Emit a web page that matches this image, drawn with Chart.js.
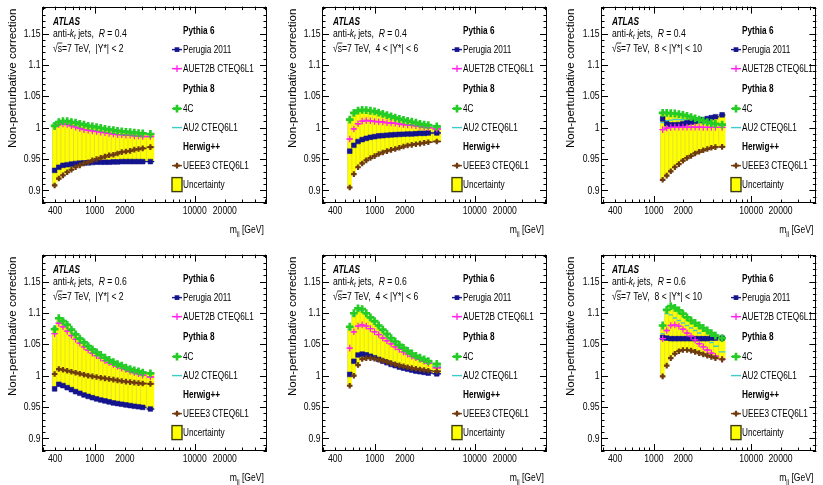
<!DOCTYPE html>
<html>
<head>
<meta charset="utf-8">
<script src="https://cdn.jsdelivr.net/npm/chart.js@4.4.1/dist/chart.umd.min.js"></script>
<style>
  html, body { margin: 0; padding: 0; background: #ffffff; }
  #wrap { position: relative; width: 823px; height: 485px; overflow: hidden; background: #ffffff; }
  .pane { position: absolute; }
</style>
</head>
<body>
<div id="wrap"></div>
<script>
// ---- dijet mass bin centres [GeV] ----
const mjjY2  = [396, 436, 480, 529, 583, 642, 707, 779, 858, 945, 1041, 1147, 1263, 1391, 1533, 1688, 1860, 2048, 2256, 2485, 2738, 3016, 3600];
const mjjY6  = [561, 617, 679, 747, 821, 903, 994, 1093, 1202, 1323, 1455, 1600, 1760, 1936, 2130, 2343, 2577, 2835, 3118, 3430, 4170];
const mjjY10 = [1230, 1354, 1490, 1640, 1805, 1987, 2187, 2408, 2650, 2917, 3211, 3534, 3890, 4282, 5020];

// ---- R = 0.4, |Y*| < 2 ----
const perugiaR4Y2 = [0.932, 0.937, 0.940, 0.941, 0.942, 0.943, 0.9435, 0.944, 0.944, 0.9445, 0.945, 0.945, 0.945, 0.945, 0.9455, 0.9455, 0.946, 0.946, 0.946, 0.946, 0.946, 0.946, 0.946];
const auet2bR4Y2  = [1.002, 1.005, 1.006, 1.005, 1.003, 1.001, 0.999, 0.997, 0.996, 0.995, 0.994, 0.993, 0.992, 0.991, 0.990, 0.989, 0.989, 0.988, 0.988, 0.987, 0.987, 0.986, 0.986];
const c4R4Y2      = [1.003, 1.009, 1.0105, 1.0105, 1.009, 1.008, 1.006, 1.005, 1.003, 1.002, 1.001, 0.9995, 0.998, 0.997, 0.996, 0.995, 0.994, 0.9935, 0.993, 0.992, 0.9915, 0.991, 0.990];
const au2R4Y2     = [1.007, 1.0105, 1.011, 1.011, 1.010, 1.009, 1.007, 1.006, 1.004, 1.003, 1.002, 1.000, 0.999, 0.998, 0.997, 0.996, 0.995, 0.994, 0.993, 0.993, 0.992, 0.991, 0.990];
const ueee3R4Y2   = [0.908, 0.919, 0.924, 0.929, 0.933, 0.937, 0.940, 0.943, 0.945, 0.948, 0.950, 0.952, 0.954, 0.956, 0.957, 0.959, 0.961, 0.962, 0.963, 0.965, 0.966, 0.967, 0.969];

// ---- R = 0.4, 4 < |Y*| < 6 ----
const perugiaR4Y6 = [0.9626, 0.972, 0.978, 0.981, 0.983, 0.9847, 0.9858, 0.987, 0.9874, 0.988, 0.9885, 0.989, 0.9893, 0.9896, 0.990, 0.990, 0.9905, 0.991, 0.991, 0.9915, 0.9916];
const auet2bR4Y6  = [0.982, 0.998, 1.0063, 1.0105, 1.0115, 1.011, 1.010, 1.0095, 1.009, 1.008, 1.0075, 1.007, 1.006, 1.005, 1.0045, 1.004, 1.003, 1.002, 1.001, 1.000, 0.998];
const c4R4Y6      = [1.013, 1.0237, 1.0273, 1.0284, 1.028, 1.027, 1.026, 1.024, 1.022, 1.020, 1.018, 1.016, 1.014, 1.0125, 1.011, 1.0095, 1.008, 1.006, 1.005, 1.004, 1.002];
const au2R4Y6     = [1.014, 1.022, 1.026, 1.027, 1.027, 1.026, 1.025, 1.023, 1.021, 1.019, 1.017, 1.015, 1.013, 1.012, 1.010, 1.009, 1.007, 1.006, 1.004, 1.003, 1.001];
const ueee3R4Y6   = [0.9047, 0.926, 0.937, 0.943, 0.948, 0.9516, 0.9547, 0.958, 0.9605, 0.9626, 0.9647, 0.966, 0.968, 0.970, 0.9716, 0.9726, 0.9737, 0.9747, 0.9758, 0.9768, 0.978];

// ---- R = 0.4, 8 < |Y*| < 10 ----
const perugiaR4Y10 = [1.014, 1.0063, 1.0047, 1.0047, 1.005, 1.0063, 1.0079, 1.009, 1.010, 1.0115, 1.013, 1.0145, 1.016, 1.0175, 1.0205];
const auet2bR4Y10  = [0.997, 0.9995, 1.0005, 1.001, 1.001, 1.001, 1.001, 1.001, 1.001, 1.001, 1.0005, 1.0005, 1.0005, 1.0005, 1.0005];
const c4R4Y10      = [1.0237, 1.0237, 1.023, 1.0226, 1.0216, 1.0205, 1.019, 1.017, 1.015, 1.013, 1.011, 1.009, 1.0075, 1.006, 1.005];
const au2R4Y10     = [1.0084, 1.011, 1.012, 1.013, 1.013, 1.0126, 1.012, 1.011, 1.010, 1.009, 1.008, 1.007, 1.006, 1.005, 1.0047];
const ueee3R4Y10   = [0.917, 0.9237, 0.9305, 0.937, 0.942, 0.9474, 0.9516, 0.955, 0.959, 0.9616, 0.964, 0.966, 0.968, 0.969, 0.9695];

// ---- R = 0.6, |Y*| < 2 ----
const perugiaR6Y2 = [0.979, 0.9863, 0.9842, 0.981, 0.9778, 0.9746, 0.972, 0.9693, 0.967, 0.965, 0.963, 0.9613, 0.9598, 0.9582, 0.9566, 0.9556, 0.9545, 0.9534, 0.9524, 0.9513, 0.9505, 0.9495, 0.947];
const auet2bR6Y2  = [1.067, 1.0836, 1.078, 1.071, 1.064, 1.058, 1.052, 1.046, 1.041, 1.036, 1.032, 1.028, 1.024, 1.021, 1.018, 1.015, 1.012, 1.010, 1.007, 1.005, 1.003, 1.001, 0.998];
const c4R6Y2      = [1.074, 1.0916, 1.087, 1.081, 1.0735, 1.066, 1.059, 1.053, 1.047, 1.042, 1.037, 1.033, 1.0286, 1.025, 1.0217, 1.0185, 1.016, 1.013, 1.0106, 1.0085, 1.007, 1.005, 1.0037];
const au2R6Y2     = [1.077, 1.093, 1.089, 1.083, 1.075, 1.068, 1.061, 1.055, 1.049, 1.044, 1.039, 1.034, 1.030, 1.026, 1.023, 1.020, 1.017, 1.014, 1.012, 1.010, 1.008, 1.006, 1.004];
const ueee3R6Y2   = [1.0027, 1.0106, 1.0095, 1.0079, 1.0063, 1.0048, 1.0032, 1.0016, 1.0, 0.9989, 0.9979, 0.9968, 0.9958, 0.9947, 0.9937, 0.9926, 0.9915, 0.9905, 0.9897, 0.989, 0.9882, 0.9875, 0.987];

// ---- R = 0.6, 4 < |Y*| < 6 ----
const perugiaR6Y6 = [1.002, 1.023, 1.033, 1.0344, 1.0333, 1.031, 1.0286, 1.026, 1.023, 1.0206, 1.018, 1.016, 1.0138, 1.012, 1.0106, 1.009, 1.0074, 1.0063, 1.0053, 1.0042, 1.003];
const auet2bR6Y6  = [1.044, 1.070, 1.079, 1.081, 1.079, 1.075, 1.070, 1.0656, 1.060, 1.0556, 1.0508, 1.046, 1.042, 1.038, 1.0344, 1.031, 1.0286, 1.026, 1.023, 1.020, 1.0127];
const c4R6Y6      = [1.078, 1.0995, 1.1074, 1.106, 1.0995, 1.093, 1.087, 1.080, 1.0735, 1.0667, 1.060, 1.0545, 1.049, 1.0444, 1.0397, 1.0354, 1.0317, 1.0286, 1.026, 1.0233, 1.019];
const au2R6Y6     = [1.074, 1.096, 1.104, 1.104, 1.098, 1.091, 1.085, 1.078, 1.071, 1.064, 1.058, 1.052, 1.047, 1.042, 1.037, 1.033, 1.029, 1.026, 1.023, 1.020, 1.015];
const ueee3R6Y6   = [0.984, 1.0, 1.017, 1.0265, 1.028, 1.028, 1.027, 1.0255, 1.024, 1.022, 1.020, 1.018, 1.0165, 1.015, 1.0135, 1.012, 1.011, 1.010, 1.009, 1.008, 1.007];

// ---- R = 0.6, 8 < |Y*| < 10 ----
const perugiaR6Y10 = [1.061, 1.060, 1.059, 1.059, 1.059, 1.059, 1.059, 1.059, 1.059, 1.059, 1.059, 1.059, 1.060, 1.060, 1.060];
const auet2bR6Y10  = [1.059, 1.072, 1.080, 1.081, 1.079, 1.074, 1.068, 1.063, 1.057, 1.051, 1.046, 1.041, 1.036, 1.031, 1.026];
const c4R6Y10      = [1.080, 1.105, 1.111, 1.108, 1.104, 1.099, 1.093, 1.088, 1.084, 1.080, 1.076, 1.072, 1.068, 1.064, 1.060];
const au2R6Y10     = [1.067, 1.099, 1.097, 1.092, 1.088, 1.084, 1.080, 1.076, 1.072, 1.068, 1.062, 1.058, 1.053, 1.047, 1.038];
const ueee3R6Y10   = [0.999, 1.016, 1.028, 1.035, 1.039, 1.041, 1.041, 1.040, 1.038, 1.036, 1.034, 1.032, 1.030, 1.028, 1.026];

// ---- axis tick labels ----
const yTickValues = [0.9, 0.95, 1, 1.05, 1.1, 1.15];
const xTickValues = [400, 1000, 2000, 10000, 20000];

// ---- fonts: horizontal text is drawn condensed ----
const FW = '"Liberation Sans", Arial, Helvetica, sans-serif';
const SX = 0.77;

// ---- generator tunes and their marker styles ----
const models = [
  { key: 'perugia', label: 'Perugia 2011',   color: '#14148e', style: 'rect',  r: 3.3, bw: 1,   order: 5 },
  { key: 'auet2b',  label: 'AUET2B CTEQ6L1', color: '#ff22ee', style: 'cross', r: 3.3, bw: 1.3, order: 4 },
  { key: 'c4',      label: '4C',             color: '#25cc25', style: 'cross', r: 3.9, bw: 2.7, order: 3 },
  { key: 'au2',     label: 'AU2 CTEQ6L1',    color: '#3ccccc', style: 'none',  r: 0,   bw: 1,   order: 2 },
  { key: 'ueee3',   label: 'UEEE3 CTEQ6L1',  color: '#6e3b0e', style: 'cross', r: 2.8, bw: 2.2, order: 1 }
];

const panels = [
  { row: 0, col: 0, R: '0.4', ystar: '|Y*| < 2',       mjj: mjjY2,  s: { perugia: perugiaR4Y2,  auet2b: auet2bR4Y2,  c4: c4R4Y2,  au2: au2R4Y2,  ueee3: ueee3R4Y2 } },
  { row: 0, col: 1, R: '0.4', ystar: '4 < |Y*| < 6',   mjj: mjjY6,  s: { perugia: perugiaR4Y6,  auet2b: auet2bR4Y6,  c4: c4R4Y6,  au2: au2R4Y6,  ueee3: ueee3R4Y6 } },
  { row: 0, col: 2, R: '0.4', ystar: '8 < |Y*| < 10',  mjj: mjjY10, s: { perugia: perugiaR4Y10, auet2b: auet2bR4Y10, c4: c4R4Y10, au2: au2R4Y10, ueee3: ueee3R4Y10 } },
  { row: 1, col: 0, R: '0.6', ystar: '|Y*| < 2',       mjj: mjjY2,  s: { perugia: perugiaR6Y2,  auet2b: auet2bR6Y2,  c4: c4R6Y2,  au2: au2R6Y2,  ueee3: ueee3R6Y2 } },
  { row: 1, col: 1, R: '0.6', ystar: '4 < |Y*| < 6',   mjj: mjjY6,  s: { perugia: perugiaR6Y6,  auet2b: auet2bR6Y6,  c4: c4R6Y6,  au2: au2R6Y6,  ueee3: ueee3R6Y6 } },
  { row: 1, col: 2, R: '0.6', ystar: '8 < |Y*| < 10',  mjj: mjjY10, s: { perugia: perugiaR6Y10, auet2b: auet2bR6Y10, c4: c4R6Y10, au2: au2R6Y10, ueee3: ueee3R6Y10 } }
];

// ---- pane geometry ----
const colLayout = [
  { left: 0,   width: 275, yw: 42, pr: 8, xmin: 296, xmax: 52900 },
  { left: 280, width: 275, yw: 42, pr: 8, xmin: 296, xmax: 52900 },
  { left: 558, width: 265, yw: 43, pr: 1, xmin: 286, xmax: 46700 }
];
const rowTops = [0, 248];
const paneH = 237, padTop = 5, xAxisH = 34;
const yMin = 0.88, yMax = 1.193;

// bin edges: geometric midpoints between neighbouring centres
function binEdges(c) {
  const n = c.length, e = [];
  for (let i = 0; i < n; i++) {
    const lo = i > 0 ? Math.sqrt(c[i - 1] * c[i]) : c[0] * c[0] / Math.sqrt(c[0] * c[1]);
    const hi = i < n - 1 ? Math.sqrt(c[i] * c[i + 1]) : c[n - 1] * c[n - 1] / Math.sqrt(c[n - 2] * c[n - 1]);
    e.push([lo, hi]);
  }
  return e;
}

// condensed text; returns drawn width
function ntext(ctx, str, x, y, font, align, measureOnly) {
  ctx.font = font;
  const w = ctx.measureText(str).width * SX;
  let x0 = x;
  if (align === 'right') x0 = x - w; else if (align === 'center') x0 = x - w / 2;
  if (!measureOnly) {
    ctx.save();
    ctx.translate(x0, y);
    ctx.scale(SX, 1);
    ctx.textAlign = 'left';
    ctx.fillText(str, 0, 0);
    ctx.restore();
  }
  return w;
}

// rich text: runs of {t, it, b, sub, over}
function drawRuns(ctx, x, y, runs, size, measureOnly) {
  let cx = x;
  for (const r of runs) {
    const s = r.sub ? size * 0.7 : size;
    const font = (r.it ? 'italic ' : '') + (r.b ? 'bold ' : '') + s + 'px ' + FW;
    const w = ntext(ctx, r.t, cx, y + (r.sub ? size * 0.3 : 0), font, 'left', measureOnly);
    if (!measureOnly && r.over) {
      ctx.save();
      ctx.lineWidth = 0.8; ctx.strokeStyle = '#000';
      ctx.beginPath();
      ctx.moveTo(cx - 0.3, y - size * 0.5); ctx.lineTo(cx + w + 0.3, y - size * 0.5);
      ctx.stroke();
      ctx.restore();
    }
    cx += w;
  }
  return cx - x;
}

function drawMarker(ctx, m, x, y) {
  ctx.save();
  ctx.strokeStyle = m.color; ctx.fillStyle = m.color; ctx.lineWidth = m.bw;
  if (m.style === 'rect') {
    const h = Math.SQRT1_2 * m.r;
    ctx.fillRect(x - h, y - h, 2 * h, 2 * h);
  } else if (m.style === 'cross') {
    ctx.beginPath();
    ctx.moveTo(x, y - m.r); ctx.lineTo(x, y + m.r);
    ctx.moveTo(x - m.r, y); ctx.lineTo(x + m.r, y);
    ctx.stroke();
  }
  ctx.restore();
}

function makeDecor(panel) {
  const edges = binEdges(panel.mjj);
  return {
    id: 'decor' + panel.row + panel.col,
    beforeDatasetsDraw(chart) {
      const { ctx, chartArea: a, scales: { x, y } } = chart;
      ctx.save();
      ctx.beginPath(); ctx.rect(a.left, a.top, a.right - a.left, a.bottom - a.top); ctx.clip();
      // uncertainty band: envelope of all tunes in each bin
      for (let i = 0; i < panel.mjj.length; i++) {
        const vals = models.map(m => panel.s[m.key][i]);
        const lo = Math.min(...vals), hi = Math.max(...vals);
        const x0 = x.getPixelForValue(edges[i][0]), x1 = x.getPixelForValue(edges[i][1]);
        const y0 = y.getPixelForValue(hi), y1 = y.getPixelForValue(lo);
        ctx.fillStyle = '#ffff00';
        ctx.fillRect(x0, y0, x1 - x0, y1 - y0);
        ctx.strokeStyle = 'rgba(205,205,40,0.85)'; ctx.lineWidth = 0.7;
        ctx.beginPath(); ctx.moveTo(x0, y0); ctx.lineTo(x0, y1); ctx.stroke();
      }
      // horizontal bin-width bars for every tune
      for (const m of models) {
        ctx.strokeStyle = m.color; ctx.lineWidth = 1.4;
        ctx.beginPath();
        panel.s[m.key].forEach((v, i) => {
          const yy = y.getPixelForValue(v);
          ctx.moveTo(x.getPixelForValue(edges[i][0]), yy);
          ctx.lineTo(x.getPixelForValue(edges[i][1]), yy);
        });
        ctx.stroke();
      }
      ctx.restore();
    },
    afterDatasetsDraw(chart) {
      const { ctx, chartArea: a, scales: { x, y } } = chart;
      ctx.save();
      ctx.strokeStyle = '#000'; ctx.lineWidth = 1;
      // frame
      ctx.strokeRect(Math.round(a.left) + 0.5, Math.round(a.top) + 0.5, Math.round(a.right - a.left) - 1, Math.round(a.bottom - a.top) - 1);
      ctx.beginPath();
      // y ticks, both sides, pointing inward
      for (let k = 88; k <= 119; k++) {
        const py = Math.round(y.getPixelForValue(k / 100)) + 0.5;
        const len = (k % 5 === 0) ? 7 : 3.5;
        ctx.moveTo(a.left, py); ctx.lineTo(a.left + len, py);
        ctx.moveTo(a.right, py); ctx.lineTo(a.right - len, py);
      }
      // log x ticks, bottom and top, pointing inward
      for (const d of [100, 1000, 10000]) {
        for (let mult = 1; mult <= 9; mult++) {
          const v = mult * d;
          if (v < x.min || v > x.max) continue;
          const px = Math.round(x.getPixelForValue(v)) + 0.5;
          const len = mult === 1 ? 7 : 3.5;
          ctx.moveTo(px, a.bottom); ctx.lineTo(px, a.bottom - len);
          ctx.moveTo(px, a.top); ctx.lineTo(px, a.top + len);
        }
      }
      ctx.stroke();
      ctx.restore();
    },
    afterDraw(chart) {
      const { ctx, chartArea: a, scales: { x, y } } = chart;
      const fl = a.left, ft = a.top;
      ctx.save();
      ctx.fillStyle = '#000';
      ctx.textBaseline = 'middle';
      ctx.textAlign = 'left';

      // tick labels placed through the chart scales
      const tickFont = '11.2px ' + FW;
      yTickValues.forEach(v => ntext(ctx, String(v), a.left - 1.5, y.getPixelForValue(v), tickFont, 'right'));
      xTickValues.forEach(v => ntext(ctx, String(v), x.getPixelForValue(v), a.bottom + 8, tickFont, 'center'));

      // y-axis title
      ctx.save();
      ctx.font = '11.5px ' + FW;
      ctx.translate(13, ft + 2);
      ctx.rotate(-Math.PI / 2);
      ctx.textAlign = 'right';
      ctx.fillText('Non-perturbative correction', 0, 0);
      ctx.restore();

      // x-axis title, right aligned
      const xt = [{ t: 'm' }, { t: 'jj', sub: true }, { t: ' [GeV]' }];
      const wxt = drawRuns(ctx, 0, 0, xt, 11.2, true);
      drawRuns(ctx, a.right - 3 - wxt, a.bottom + 27, xt, 11.2);

      // experiment and selection labels
      const tx = fl + 11;
      ntext(ctx, 'ATLAS', tx, ft + 15, 'italic bold 10.8px ' + FW, 'left');
      drawRuns(ctx, tx, ft + 27, [{ t: 'anti-' }, { t: 'k', it: true }, { t: 't', it: true, sub: true }, { t: ' jets,  ' }, { t: 'R', it: true }, { t: ' = ' + panel.R }], 11.2);
      drawRuns(ctx, tx, ft + 42, [{ t: '\u221A' }, { t: 's', over: true }, { t: '=7 TeV,  ' + panel.ystar }], 11.2);

      // legend
      const mx = fl + 135, lx = fl + 141;
      const hFont = 'bold 10.7px ' + FW, lFont = '10.7px ' + FW;
      ntext(ctx, 'Pythia 6', lx, ft + 24, hFont, 'left');
      ntext(ctx, 'Pythia 8', lx, ft + 82, hFont, 'left');
      ntext(ctx, 'Herwig++', lx, ft + 140, hFont, 'left');
      const rows = [43, 62, 102, 121, 159];
      models.forEach((m, i) => {
        const yy = ft + rows[i];
        ctx.save();
        ctx.strokeStyle = m.color; ctx.lineWidth = 1.4;
        ctx.beginPath(); ctx.moveTo(mx - 5, yy); ctx.lineTo(mx + 5, yy); ctx.stroke();
        ctx.restore();
        drawMarker(ctx, m, mx, yy);
        ctx.fillStyle = '#000';
        ntext(ctx, m.label, lx, yy, lFont, 'left');
      });
      const uy = ft + 178;
      ctx.fillStyle = '#ffff00';
      ctx.fillRect(mx - 5, uy - 7, 10, 14);
      ctx.strokeStyle = '#3c3c10'; ctx.lineWidth = 1.4;
      ctx.strokeRect(mx - 5, uy - 7, 10, 14);
      ctx.fillStyle = '#000';
      ntext(ctx, 'Uncertainty', lx, uy, lFont, 'left');
      ctx.restore();
    }
  };
}

const wrap = document.getElementById('wrap');
panels.forEach(panel => {
  const cl = colLayout[panel.col];
  const cv = document.createElement('canvas');
  cv.className = 'pane';
  cv.width = cl.width; cv.height = paneH;
  cv.style.left = cl.left + 'px'; cv.style.top = rowTops[panel.row] + 'px';
  cv.style.width = cl.width + 'px'; cv.style.height = paneH + 'px';
  wrap.appendChild(cv);

  const datasets = models.map(m => ({
    label: m.label,
    data: panel.mjj.map((v, i) => ({ x: v, y: panel.s[m.key][i] })),
    showLine: false,
    order: m.order,
    pointStyle: m.style === 'none' ? 'circle' : m.style,
    pointRadius: m.r,
    pointHoverRadius: m.r,
    pointBorderWidth: m.style === 'rect' ? 0.6 : m.bw,
    borderColor: m.color,
    backgroundColor: m.color
  }));

  new Chart(cv, {
    type: 'scatter',
    data: { datasets },
    options: {
      responsive: false,
      animation: false,
      devicePixelRatio: 1,
      events: [],
      layout: { padding: { top: padTop, right: cl.pr, left: 0, bottom: 0 } },
      plugins: { legend: { display: false }, tooltip: { enabled: false } },
      scales: {
        x: {
          type: 'logarithmic', min: cl.xmin, max: cl.xmax,
          grid: { display: false, drawTicks: false }, border: { display: false },
          afterBuildTicks: s => { s.ticks = xTickValues.map(v => ({ value: v })); },
          afterFit: s => { s.height = xAxisH; },
          ticks: { display: false }
        },
        y: {
          type: 'linear', min: yMin, max: yMax, bounds: 'data',
          grid: { display: false, drawTicks: false }, border: { display: false },
          afterBuildTicks: s => { s.ticks = yTickValues.map(v => ({ value: v })); },
          afterFit: s => { s.width = cl.yw; },
          ticks: { display: false }
        }
      }
    },
    plugins: [makeDecor(panel)]
  });
});
</script>
</body>
</html>
